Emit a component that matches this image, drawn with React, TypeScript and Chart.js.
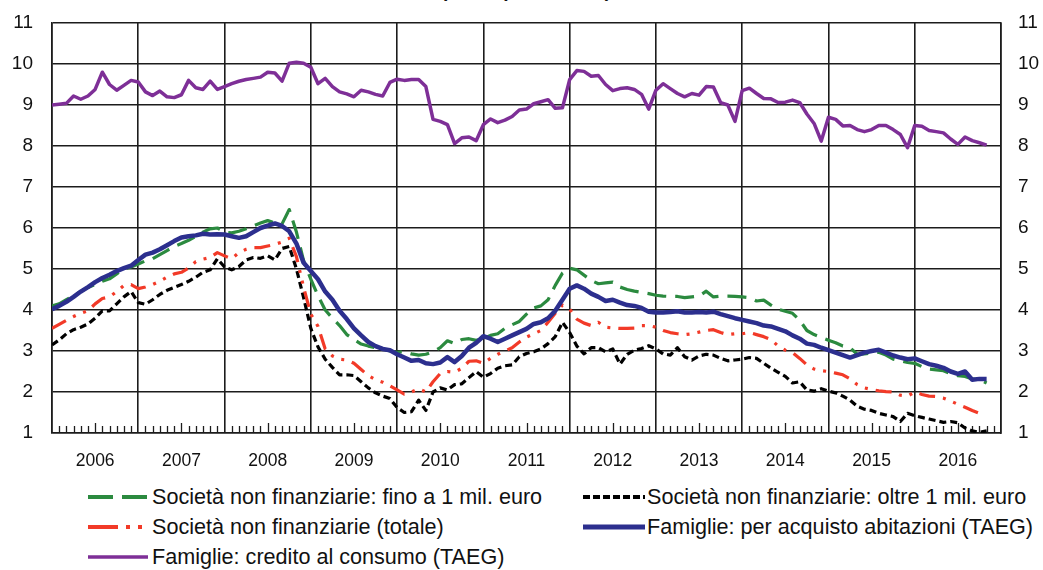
import React, { useEffect, useRef } from 'react';
import { Chart, registerables } from 'chart.js';

Chart.register(...registerables);

const FIRST_YEAR = 2006;
const TOTAL_MONTHS = 132;
const yTickValues = [1, 2, 3, 4, 5, 6, 7, 8, 9, 10, 11];

// Società non finanziarie: fino a 1 mil. euro (monthly, Jan 2006 -> Nov 2016)
const smallFirms = [
  4.10, 4.15, 4.25, 4.35, 4.45, 4.55, 4.62, 4.70, 4.76, 4.88, 5.00, 5.05,
  5.12, 5.20, 5.25, 5.35, 5.45, 5.55, 5.62, 5.70, 5.80, 5.90, 5.98, 6.00,
  5.90, 5.88, 5.92, 5.98, 6.05, 6.12, 6.18, 6.12, 6.10, 6.45, 5.90, 5.20,
  4.75, 4.35, 4.00, 3.80, 3.62, 3.40, 3.28, 3.17, 3.12, 3.08, 3.05, 3.00,
  2.97, 2.98, 2.93, 2.90, 2.92, 2.98, 3.08, 3.25, 3.18, 3.28, 3.30, 3.26,
  3.30, 3.38, 3.42, 3.55, 3.64, 3.72, 3.90, 4.05, 4.10, 4.25, 4.60, 4.90,
  5.02, 4.98, 4.85, 4.72, 4.64, 4.66, 4.68, 4.56, 4.50, 4.46, 4.43, 4.40,
  4.36, 4.34, 4.33, 4.33, 4.30, 4.32, 4.34, 4.46, 4.32, 4.34, 4.34, 4.33,
  4.32, 4.30, 4.22, 4.24, 4.12, 4.02, 3.97, 3.92, 3.75, 3.50, 3.40, 3.33,
  3.26, 3.20, 3.12, 3.08, 2.92, 2.93, 2.95, 2.97, 2.90, 2.80, 2.76, 2.72,
  2.70, 2.62, 2.56, 2.54, 2.52, 2.44, 2.40, 2.38, 2.32, 2.30, 2.22,
];

// Società non finanziarie: oltre 1 mil. euro
const largeFirms = [
  3.15, 3.27, 3.42, 3.52, 3.58, 3.66, 3.80, 3.98, 3.98, 4.15, 4.32, 4.45,
  4.18, 4.14, 4.25, 4.38, 4.48, 4.55, 4.62, 4.70, 4.80, 4.92, 4.98, 5.25,
  5.05, 4.98, 5.06, 5.22, 5.28, 5.26, 5.32, 5.22, 5.50, 5.55, 5.00, 4.30,
  3.55, 3.10, 2.80, 2.60, 2.42, 2.42, 2.40, 2.25, 2.10, 1.98, 1.90, 1.84,
  1.62, 1.50, 1.52, 1.80, 1.55, 2.00, 2.10, 2.05, 2.18, 2.20, 2.35, 2.50,
  2.36, 2.45, 2.58, 2.64, 2.66, 2.86, 2.94, 2.98, 3.05, 3.18, 3.35, 3.70,
  3.45, 3.12, 2.93, 3.08, 3.08, 2.98, 3.05, 2.68, 2.92, 3.02, 3.06, 3.13,
  3.05, 2.93, 2.90, 3.08, 2.86, 2.78, 2.88, 2.92, 2.90, 2.82, 2.76, 2.78,
  2.80, 2.84, 2.82, 2.70, 2.58, 2.48, 2.38, 2.22, 2.25, 2.05, 2.02, 2.08,
  2.02, 1.98, 1.90, 1.80, 1.65, 1.58, 1.55, 1.48, 1.44, 1.40, 1.28, 1.48,
  1.42, 1.38, 1.34, 1.30, 1.26, 1.28, 1.25, 1.12, 1.05, 1.02, 1.05,
];

// Società non finanziarie (totale)
const totalFirms = [
  3.55, 3.65, 3.75, 3.84, 3.92, 3.98, 4.15, 4.28, 4.32, 4.45, 4.60, 4.62,
  4.52, 4.56, 4.62, 4.70, 4.80, 4.88, 4.92, 5.02, 5.18, 5.24, 5.28, 5.40,
  5.32, 5.25, 5.40, 5.48, 5.52, 5.52, 5.56, 5.60, 5.66, 5.75, 5.30, 4.55,
  3.90, 3.60, 3.05, 2.88, 2.80, 2.78, 2.70, 2.55, 2.40, 2.30, 2.24, 2.15,
  2.05, 1.95, 2.00, 2.08, 2.00, 2.25, 2.45, 2.50, 2.48, 2.58, 2.75, 2.76,
  2.70, 2.82, 2.92, 3.00, 3.08, 3.22, 3.34, 3.42, 3.50, 3.70, 3.92, 4.12,
  4.02, 3.78, 3.68, 3.62, 3.70, 3.58, 3.56, 3.55, 3.55, 3.56, 3.62, 3.62,
  3.58, 3.50, 3.45, 3.42, 3.40, 3.42, 3.46, 3.50, 3.52, 3.45, 3.40, 3.42,
  3.42, 3.45, 3.40, 3.35, 3.28, 3.12, 3.02, 2.96, 2.82, 2.66, 2.56, 2.52,
  2.50, 2.46, 2.42, 2.32, 2.18, 2.10, 2.06, 2.03, 2.01, 2.00, 1.92, 1.90,
  2.00, 1.94, 1.90, 1.89, 1.85, 1.78, 1.70, 1.63, 1.55, 1.48, null,
];

// Famiglie: per acquisto abitazioni (TAEG)
const housing = [
  4.02, 4.10, 4.20, 4.32, 4.45, 4.56, 4.68, 4.78, 4.86, 4.95, 5.02, 5.08,
  5.22, 5.35, 5.40, 5.48, 5.58, 5.68, 5.77, 5.80, 5.82, 5.86, 5.84, 5.85,
  5.84, 5.80, 5.76, 5.80, 5.90, 6.00, 6.06, 6.11, 6.05, 5.92, 5.62, 5.15,
  4.95, 4.75, 4.45, 4.25, 3.98, 3.78, 3.55, 3.38, 3.22, 3.12, 3.05, 3.02,
  2.92, 2.84, 2.76, 2.78, 2.70, 2.68, 2.72, 2.85, 2.73, 2.88, 3.08, 3.20,
  3.36, 3.30, 3.22, 3.30, 3.38, 3.46, 3.54, 3.66, 3.70, 3.80, 3.98, 4.25,
  4.52, 4.60, 4.52, 4.40, 4.32, 4.22, 4.25, 4.18, 4.12, 4.10, 4.05, 3.96,
  3.94, 3.94, 3.95, 3.97, 3.94, 3.94, 3.95, 3.94, 3.96, 3.90, 3.85, 3.80,
  3.76, 3.72, 3.68, 3.62, 3.60, 3.54, 3.48, 3.38, 3.30, 3.18, 3.15, 3.08,
  3.02, 2.96, 2.90, 2.84, 2.90, 2.96, 3.00, 3.03, 2.96, 2.89, 2.84, 2.80,
  2.82, 2.75, 2.68, 2.64, 2.59, 2.50, 2.44, 2.50, 2.30, 2.32, 2.32,
];

// Famiglie: credito al consumo (TAEG)
const consumerCredit = [
  9.00, 9.02, 9.04, 9.22, 9.14, 9.22, 9.38, 9.80, 9.50, 9.36, 9.48, 9.60,
  9.56, 9.32, 9.23, 9.34, 9.20, 9.18, 9.25, 9.60, 9.42, 9.38, 9.58, 9.38,
  9.45, 9.52, 9.58, 9.62, 9.65, 9.68, 9.80, 9.78, 9.58, 10.02, 10.04, 10.02,
  9.92, 9.52, 9.65, 9.45, 9.32, 9.27, 9.20, 9.36, 9.32, 9.26, 9.22, 9.55,
  9.63, 9.60, 9.62, 9.62, 9.45, 8.65, 8.60, 8.52, 8.06, 8.20, 8.22, 8.13,
  8.52, 8.66, 8.57, 8.63, 8.72, 8.88, 8.90, 9.03, 9.08, 9.13, 8.92, 8.93,
  9.62, 9.84, 9.82, 9.70, 9.72, 9.50, 9.35, 9.40, 9.42, 9.38, 9.26, 8.90,
  9.36, 9.52, 9.40, 9.28, 9.20, 9.28, 9.24, 9.45, 9.44, 9.06, 9.00, 8.60,
  9.35, 9.41, 9.28, 9.16, 9.15, 9.06, 9.07, 9.12, 9.06, 8.78, 8.55, 8.12,
  8.70, 8.65, 8.49, 8.50, 8.40, 8.35, 8.40, 8.50, 8.50, 8.40, 8.28, 7.96,
  8.50, 8.48, 8.38, 8.35, 8.32, 8.17, 8.04, 8.22, 8.13, 8.08, 8.02,
];

const seriesNames = [
  'Società non finanziarie: fino a 1 mil. euro',
  'Società non finanziarie: oltre 1 mil. euro',
  'Società non finanziarie (totale)',
  'Famiglie: per acquisto abitazioni (TAEG)',
  'Famiglie: credito al consumo (TAEG)',
];

const COLORS = {
  green: '#2b8a3f',
  black: '#000000',
  red: '#f23a28',
  blue: '#2c2f8e',
  purple: '#7e2f97',
};

const FONT = "'Liberation Sans', Arial, sans-serif";
const GRID = '#1c1c1c';

const toPoints = (arr: (number | null)[]) => arr.map((v, i) => ({ x: i, y: v }));

const minorTicksPlugin = {
  id: 'minorTicks',
  beforeDatasetsDraw(chart: any) {
    const x = chart.scales.x;
    const bottom = chart.chartArea.bottom;
    const ctx = chart.ctx;
    ctx.save();
    ctx.strokeStyle = GRID;
    ctx.lineWidth = 1.3;
    for (let m = 1; m < TOTAL_MONTHS; m++) {
      if (m % 12 === 0) continue;
      const len = m % 12 === 6 ? 10 : 7;
      const px = Math.round(x.getPixelForValue(m)) + 0.5;
      ctx.beginPath();
      ctx.moveTo(px, bottom);
      ctx.lineTo(px, bottom - len);
      ctx.stroke();
    }
    ctx.restore();
  },
};

function LegendItem({ left, top, label, kind }: { left: number; top: number; label: string; kind: string }) {
  let sample: React.ReactNode = null;
  if (kind === 'green') {
    sample = <line x1={0} y1={12} x2={60} y2={12} stroke={COLORS.green} strokeWidth={4} strokeDasharray="25 9" />;
  } else if (kind === 'black') {
    sample = <line x1={0} y1={12} x2={62} y2={12} stroke={COLORS.black} strokeWidth={4} strokeDasharray="7 3" />;
  } else if (kind === 'red') {
    sample = <line x1={0} y1={12} x2={60} y2={12} stroke={COLORS.red} strokeWidth={4} strokeDasharray="30 8 4 8 4 8" />;
  } else if (kind === 'blue') {
    sample = <line x1={0} y1={12} x2={62} y2={12} stroke={COLORS.blue} strokeWidth={5} />;
  } else {
    sample = <line x1={0} y1={12} x2={60} y2={12} stroke={COLORS.purple} strokeWidth={3.5} />;
  }
  return (
    <div style={{ position: 'absolute', left, top, height: 24, display: 'flex', alignItems: 'center' }}>
      <svg width={64} height={24} style={{ display: 'block' }}>{sample}</svg>
      <span style={{ fontFamily: FONT, fontSize: 21.6, color: '#111', lineHeight: '24px', whiteSpace: 'nowrap' }}>{label}</span>
    </div>
  );
}

const zeroVerticalPadding = (width: number) => (scale: any) => {
  scale.width = width;
  scale.paddingTop = 0;
  scale.paddingBottom = 0;
};

export default function App() {
  const canvasRef = useRef<HTMLCanvasElement | null>(null);

  useEffect(() => {
    if (!canvasRef.current) return;
    const chart = new Chart(canvasRef.current, {
      type: 'line',
      data: {
        datasets: [
          {
            label: seriesNames[3],
            data: toPoints(housing),
            borderColor: COLORS.blue,
            borderWidth: 4.5,
            order: 0,
          },
          {
            label: seriesNames[0],
            data: toPoints(smallFirms),
            borderColor: COLORS.green,
            borderWidth: 3.2,
            borderDash: [19, 9],
            order: 1,
          },
          {
            label: seriesNames[2],
            data: toPoints(totalFirms),
            borderColor: COLORS.red,
            borderWidth: 3.2,
            borderDash: [16, 8, 3, 8, 3, 8],
            order: 2,
          },
          {
            label: seriesNames[1],
            data: toPoints(largeFirms),
            borderColor: COLORS.black,
            borderWidth: 3.2,
            borderDash: [7, 4],
            order: 3,
          },
          {
            label: seriesNames[4],
            data: toPoints(consumerCredit),
            borderColor: COLORS.purple,
            borderWidth: 3.5,
            order: 4,
          },
        ] as any,
      },
      options: {
        responsive: false,
        animation: false,
        layout: { padding: { top: 23, left: 0, right: 0, bottom: 0 } },
        plugins: { legend: { display: false }, tooltip: { enabled: false }, title: { display: false } },
        elements: {
          point: { radius: 0 },
          line: { tension: 0, borderCapStyle: 'butt', borderJoinStyle: 'round', fill: false },
        },
        scales: {
          x: {
            type: 'linear',
            min: 0,
            max: TOTAL_MONTHS,
            afterBuildTicks: (scale: any) => {
              const t = [];
              for (let v = 0; v <= TOTAL_MONTHS; v += 6) t.push({ value: v });
              scale.ticks = t;
            },
            afterFit: (scale: any) => {
              scale.height = 37;
            },
            ticks: {
              autoSkip: false,
              maxRotation: 0,
              minRotation: 0,
              padding: 18,
              color: '#111',
              font: { family: FONT, size: 17.5 },
              callback: (v: any) => (Number(v) % 12 === 6 ? String(FIRST_YEAR + (Number(v) - 6) / 12) : ''),
            },
            grid: {
              drawTicks: false,
              lineWidth: 1.6,
              color: (ctx: any) => (ctx.tick && ctx.tick.value % 12 === 0 ? GRID : 'rgba(0,0,0,0)'),
            },
            border: { display: true, color: GRID, width: 1.6 },
          },
          y: {
            position: 'left',
            min: 1,
            max: 11,
            afterBuildTicks: (scale: any) => {
              scale.ticks = yTickValues.map((v) => ({ value: v }));
            },
            afterFit: zeroVerticalPadding(52),
            ticks: { padding: 19, color: '#111', font: { family: FONT, size: 19 } },
            grid: { drawTicks: false, lineWidth: 1.6, color: GRID },
            border: { display: true, color: GRID, width: 1.6 },
          },
          y2: {
            position: 'right',
            min: 1,
            max: 11,
            afterBuildTicks: (scale: any) => {
              scale.ticks = yTickValues.map((v) => ({ value: v }));
            },
            afterFit: zeroVerticalPadding(42),
            ticks: { padding: 17, color: '#111', font: { family: FONT, size: 19 } },
            grid: { display: false, drawTicks: false },
            border: { display: true, color: GRID, width: 1.6 },
          },
        },
      } as any,
      plugins: [minorTicksPlugin],
    });
    return () => chart.destroy();
  }, []);

  return (
    <div style={{ position: 'absolute', left: 0, top: 0, width: 1043, height: 570, background: '#fff', overflow: 'hidden' }}>
      <div
        style={{
          position: 'absolute',
          left: 0,
          top: -20,
          width: 1052,
          textAlign: 'center',
          fontFamily: FONT,
          fontSize: 19,
          fontWeight: 'bold',
          color: '#111',
        }}
      >
        (valori percentuali)
      </div>
      <canvas ref={canvasRef} width={1043} height={470} style={{ position: 'absolute', left: 0, top: 0, display: 'block' }} />
      <LegendItem left={88} top={485} label={seriesNames[0]} kind="green" />
      <LegendItem left={583} top={485} label={seriesNames[1]} kind="black" />
      <LegendItem left={88} top={515} label={seriesNames[2]} kind="red" />
      <LegendItem left={583} top={515} label={seriesNames[3]} kind="blue" />
      <LegendItem left={88} top={545} label={seriesNames[4]} kind="purple" />
    </div>
  );
}
